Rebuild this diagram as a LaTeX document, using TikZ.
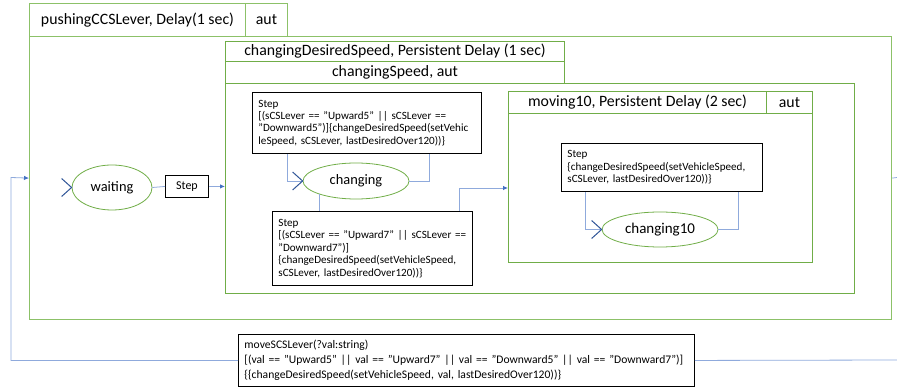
\documentclass[tikz,border=0pt]{standalone}
\usepackage{fontspec}
\setmainfont{Carlito}
\usetikzlibrary{arrows.meta,shapes.geometric}
\definecolor{stgreen}{HTML}{70AD47}
\definecolor{outgreen}{HTML}{8CC168}
\definecolor{connblue}{HTML}{8FAADC}
\definecolor{tipblue}{HTML}{4472C4}
\definecolor{chevblue}{HTML}{2F5597}
\tikzset{
  cell/.style={draw=stgreen,line width=1pt,inner sep=0pt,anchor=north west,font=\fontsize{15.8}{18}\selectfont},
  outercell/.style={cell,draw=outgreen},
  body/.style={draw=stgreen,line width=1pt,inner sep=0pt,anchor=north west},
  outerbody/.style={body,draw=outgreen,line width=1.2pt},
  statenode/.style={ellipse,draw=stgreen,line width=0.8pt,inner sep=0pt,font=\fontsize{14.4}{17}\selectfont},
  stepbox/.style={draw=black,line width=0.9pt,fill=white,anchor=north west,inner xsep=6pt,inner ysep=0pt,align=left,font=\fontsize{11.1}{12.4}\selectfont},
  conn/.style={draw=connblue,line width=0.8pt},
  arr/.style={conn,-{Latex[length=5pt,width=4.5pt,color=tipblue,fill=tipblue]}},
  chev/.style={draw=chevblue,line width=1pt},
}
\begin{document}
\begin{tikzpicture}[x=1pt,y=-1pt]
\useasboundingbox (0,0) rectangle (897,387);
% outer state
\node[outerbody,minimum width=862pt,minimum height=283pt] (outer) at (29,36) {};
\node[outercell,minimum width=216pt,minimum height=33pt] (outerHead) at (29,3) {pushingCCSLever, Delay(1 sec)};
\node[outercell,minimum width=42pt,minimum height=33pt] (outerAut) at (245,3) {aut};
% changingDesiredSpeed
\node[body,minimum width=629pt,minimum height=210pt] (cds) at (225,83) {};
\node[cell,minimum width=339pt,minimum height=20pt] (cdsHead1) at (225,41) {changingDesiredSpeed, Persistent Delay (1 sec)};
\node[cell,minimum width=339pt,minimum height=22pt] (cdsHead2) at (225,61) {changingSpeed, aut};
% moving10
\node[body,minimum width=304pt,minimum height=149pt] (m10) at (508,113) {};
\node[cell,minimum width=258pt,minimum height=22pt] (m10Head) at (508,91) {moving10, Persistent Delay (2 sec)};
\node[cell,minimum width=46pt,minimum height=22pt] (m10Aut) at (766,91) {aut};
% states
\node[statenode,minimum width=80pt,minimum height=45pt] (waiting) at (112,187.5) {waiting};
\node[statenode,minimum width=106pt,minimum height=36pt] (changing) at (356,181) {changing};
\node[statenode,minimum width=116pt,minimum height=35pt,font=\fontsize{15}{17}\selectfont] (changingTen) at (660,229.5) {changing10};
% step boxes
\node[stepbox,minimum width=43pt,minimum height=22pt,inner xsep=0pt,align=center,font=\fontsize{12}{14}\selectfont] (step0) at (165,175) {Step};
\node[stepbox,minimum width=229pt,minimum height=61pt,text width=217pt] (step1) at (252,92) {Step\\{}[(sCSLever == "Upward5" || sCSLever ==\\"Downward5")]\{changeDesiredSpeed(setVehic\\leSpeed, sCSLever, lastDesiredOver120))\}};
\node[stepbox,minimum width=200pt,minimum height=74pt,text width=188pt] (step2) at (272,211) {Step\\{}[(sCSLever == "Upward7" || sCSLever ==\\"Downward7")]\\\{changeDesiredSpeed(setVehicleSpeed,\\sCSLever, lastDesiredOver120))\}};
\node[stepbox,minimum width=201pt,minimum height=48pt,text width=189pt] (step3) at (561,143) {Step\\\{changeDesiredSpeed(setVehicleSpeed,\\sCSLever, lastDesiredOver120))\}};
\node[stepbox,minimum width=456pt,minimum height=52pt,text width=444pt,font=\fontsize{11.6}{15}\selectfont] (mv) at (238,334) {moveSCSLever(?val:string)\\{}[(val == "Upward5" || val == "Upward7" || val == "Downward5" || val == "Downward7")]\\\{\{changeDesiredSpeed(setVehicleSpeed, val, lastDesiredOver120))\}};
% connectors
\draw[conn] (waiting.east) -- (step0.west);
\draw[arr] (step0.east) -- (step0.east -| cds.west);
\draw[conn] ([xshift=35pt]step1.south west) |- (changing.west);
\draw[conn] (changing.east) -| ([xshift=-53pt]step1.south east);
\draw[conn] (changing.200) -- (changing.200 |- step2.north);
\draw[arr] ([xshift=-14pt]step2.north east) |- (m10.west);
\draw[conn] ([xshift=24pt]step3.south west) |- (changingTen.west);
\draw[conn] (changingTen.east) -| ([xshift=-25pt]step3.south east);
\coordinate (loopL) at (11,177.5);
\coordinate (loopR) at (897,360);
\coordinate (stubR) at (897,177.5);
\draw[arr] (mv.west) -| (loopL) -- (outer.west);
\draw[conn] (mv.east) -- (loopR);
\draw[conn] (outer.east) -- (stubR);
% initial / entry chevrons
\draw[chev] ([shift={(-10pt,-9pt)}]waiting.west) -- (waiting.west) -- ([shift={(-10pt,9pt)}]waiting.west);
\draw[chev] ([shift={(-10pt,-9pt)}]changing.west) -- (changing.west) -- ([shift={(-10pt,9pt)}]changing.west);
\draw[chev] ([shift={(-10pt,-9pt)}]changingTen.west) -- (changingTen.west) -- ([shift={(-10pt,9pt)}]changingTen.west);
\end{tikzpicture}
\end{document}
